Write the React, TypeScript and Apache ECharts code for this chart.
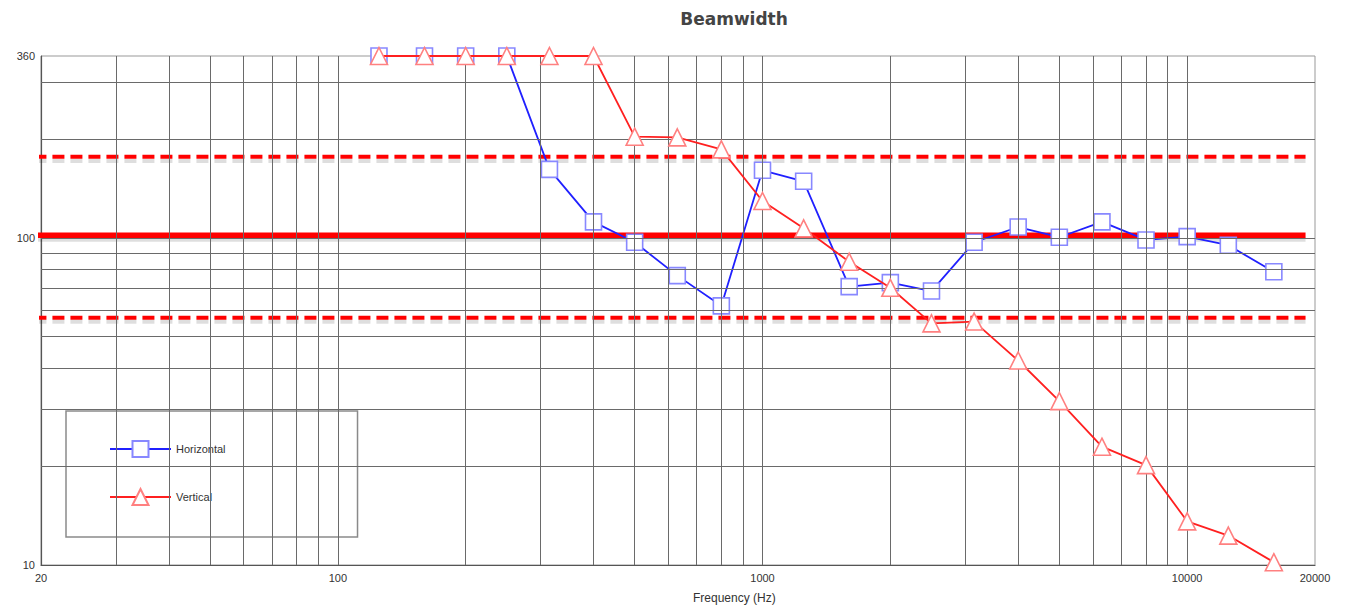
import { useEffect, useRef } from 'react';
import * as echarts from 'echarts';

const frequencies = [125, 160, 200, 250, 315, 400, 500, 630, 800, 1000, 1250, 1600, 2000, 2500, 3150, 4000, 5000, 6300, 8000, 10000, 12500, 16000];
const horizontal = [360, 360, 360, 360, 162, 112, 97, 76.7, 62, 161, 149, 71, 73, 68.8, 97, 108, 100.5, 112, 98.6, 100.9, 95, 78.8];
const vertical = [360, 360, 360, 360, 360, 360, 204, 203, 186.6, 129.7, 107, 84.6, 70.4, 54.8, 55.5, 42.2, 31.7, 23, 20.2, 13.6, 12.3, 10.2];

const xGridValues = [30, 40, 50, 60, 70, 80, 90, 100, 200, 300, 400, 500, 600, 700, 800, 900, 1000, 2000, 3000, 4000, 5000, 6000, 7000, 8000, 9000, 10000];
const yGridValues = [20, 30, 40, 50, 60, 70, 80, 90, 100, 200, 300];

const targetValue = 102;
const upperLimit = 177;
const lowerLimit = 57;
const refSpan = [19.3, 19000];

const xMin = 20;
const xMax = 20000;
const yMin = 10;
const yMax = 360;

// visual drop-shadow offset for limit lines (about 4px lower on this log axis)
const SHADOW_FACTOR = 0.972;

export default function App() {
  const ref = useRef<HTMLDivElement>(null);
  useEffect(() => {
    if (!ref.current) return;
    const chart = echarts.init(ref.current, undefined, { renderer: 'svg' });
    const font = '"Liberation Sans", Arial, sans-serif';
    const gridStyle = { color: '#6a6a6a', width: 1, type: 'solid' as const };
    const limitSeries = (name: string, value: number, width: number, type: any, color: string, z: number) => ({
      name,
      type: 'line',
      z,
      silent: true,
      symbol: 'none',
      clip: false,
      data: refSpan.map((f) => [f, value]),
      lineStyle: { color, width, type, cap: 'butt' },
      emphasis: { disabled: true },
    });
    chart.setOption({
      animation: false,
      backgroundColor: '#ffffff',
      title: {
        text: 'Beamwidth',
        left: 729,
        top: 5,
        textAlign: 'center',
        textStyle: { fontFamily: '"DejaVu Sans", sans-serif', fontWeight: 'bold', fontSize: 17, color: '#444444' },
      },
      grid: { left: 41, right: 50, top: 56, bottom: 46, show: true, borderColor: '#999', borderWidth: 1 },
      legend: {
        orient: 'vertical',
        left: 66,
        top: 411,
        data: ['Horizontal', 'Vertical'],
        itemWidth: 61,
        itemHeight: 20,
        itemGap: 30,
        padding: [29, 132, 31, 43],
        borderColor: '#8a8a8a',
        borderWidth: 1.5,
        backgroundColor: '#ffffff',
        textStyle: { fontFamily: font, fontSize: 11, color: '#333' },
      },
      xAxis: {
        type: 'log',
        logBase: 10,
        min: xMin,
        max: xMax,
        axisLine: { lineStyle: { color: '#555', width: 1.2 } },
        axisTick: { show: false },
        splitLine: { show: false },
        axisLabel: {
          fontFamily: font,
          fontSize: 11,
          color: '#333',
          margin: 7,
          formatter: (v: number) => String(Math.round(v)),
          showMinLabel: true,
          showMaxLabel: true,
        },
      },
      yAxis: {
        type: 'log',
        logBase: 10,
        min: yMin,
        max: yMax,
        axisLine: { show: true, lineStyle: { color: '#555', width: 1.2 } },
        axisTick: { show: false },
        splitLine: { show: false },
        axisLabel: {
          fontFamily: font,
          fontSize: 11,
          color: '#333',
          margin: 6,
          formatter: (v: number) => String(Math.round(v)),
          showMinLabel: true,
          showMaxLabel: true,
        },
      },
      graphic: [
        {
          type: 'text',
          left: 741 - 48,
          top: 592,
          style: { text: 'Frequency (Hz)', fontFamily: font, fontSize: 12, fill: '#333' },
        },
      ],
      series: [
        {
          name: 'grid',
          type: 'line',
          data: [],
          z: 1,
          silent: true,
          markLine: {
            silent: true,
            symbol: ['none', 'none'],
            label: { show: false },
            lineStyle: gridStyle,
            emphasis: { disabled: true },
            data: [
              ...xGridValues.map((v) => ({ xAxis: v })),
              ...yGridValues.map((v) => ({ yAxis: v })),
            ],
          },
        },
        limitSeries('targetShadow', targetValue * SHADOW_FACTOR, 5, 'solid', 'rgba(0,0,0,0.13)', 2),
        limitSeries('upperShadow', upperLimit * SHADOW_FACTOR, 4, [12, 6], 'rgba(0,0,0,0.13)', 2),
        limitSeries('lowerShadow', lowerLimit * SHADOW_FACTOR, 4, [12, 6], 'rgba(0,0,0,0.13)', 2),
        limitSeries('target', targetValue, 5.5, 'solid', '#ff0000', 3),
        limitSeries('upper', upperLimit, 4, [12, 6], '#ff0000', 3),
        limitSeries('lower', lowerLimit, 4, [12, 6], '#ff0000', 3),
        {
          name: 'Horizontal',
          type: 'line',
          z: 4,
          data: frequencies.map((f, i) => [f, horizontal[i]]),
          symbol: 'rect',
          symbolSize: 16,
          showAllSymbol: true,
          lineStyle: { color: '#2020ff', width: 1.8 },
          itemStyle: { color: '#ffffff', borderColor: '#8888ff', borderWidth: 1.6 },
        },
        {
          name: 'Vertical',
          type: 'line',
          z: 5,
          data: frequencies.map((f, i) => [f, vertical[i]]),
          symbol: 'triangle',
          symbolSize: 17,
          showAllSymbol: true,
          lineStyle: { color: '#ff2020', width: 1.8 },
          itemStyle: { color: '#ffffff', borderColor: '#ff8080', borderWidth: 1.6 },
        },
      ],
    });
    return () => chart.dispose();
  }, []);
  return <div ref={ref} style={{ position: 'fixed', left: 0, top: 0, width: 1365, height: 611 }} />;
}
